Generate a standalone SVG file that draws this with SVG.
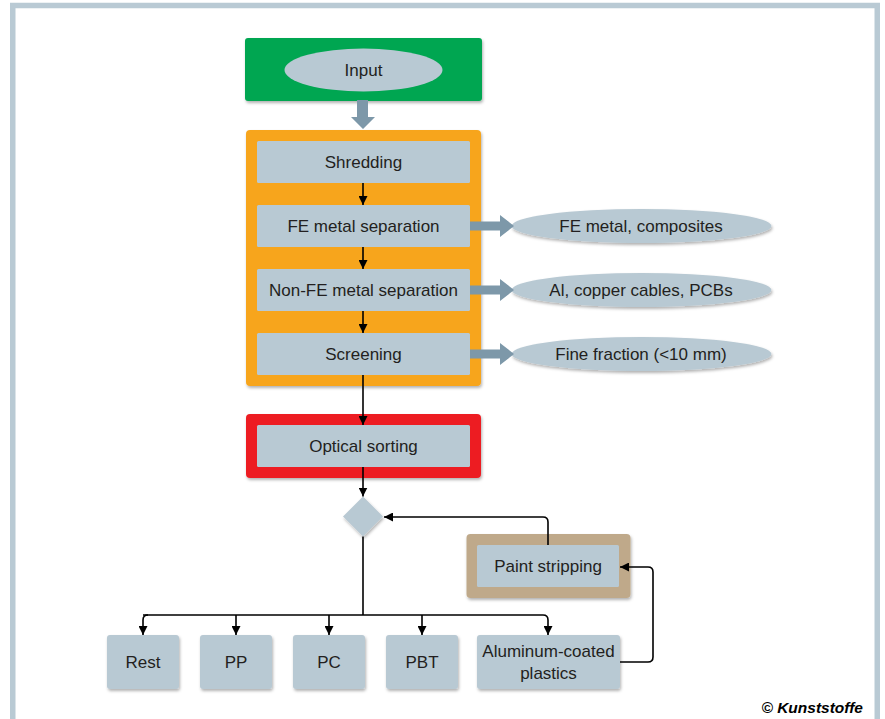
<svg xmlns="http://www.w3.org/2000/svg" width="885" height="719" viewBox="0 0 885 719">
<defs>
<filter id="sh" x="-10%" y="-10%" width="125%" height="130%">
<feDropShadow dx="1" dy="2" stdDeviation="1.5" flood-color="#000" flood-opacity="0.3"/>
</filter>
<marker id="ah" markerUnits="userSpaceOnUse" markerWidth="9" markerHeight="9" refX="9" refY="4.5" orient="auto">
<path d="M0,0 L9,4.5 L0,9 z" fill="#000"/>
</marker>
</defs>
<style>
text{font-family:"Liberation Sans",Arial,sans-serif;font-size:17px;fill:#231f20;text-anchor:middle}
.box{fill:#b8c9d3}
.ell{fill:#b8c9d3;filter:url(#sh)}
.con{fill:none;stroke:#000;stroke-width:1.6}
.arr{marker-end:url(#ah)}
.thick{fill:#7d98a9}
.copy{font-weight:bold;font-style:italic;font-size:15.5px;text-anchor:end;fill:#000}
</style>
<rect x="0" y="0" width="885" height="719" fill="#fff"/>
<rect x="12.75" y="5.5" width="864.5" height="740" fill="#fff" stroke="#b9cad4" stroke-width="5.5"/>

<g id="input">
<rect x="245" y="38" width="237" height="63" rx="3" fill="#00a651" filter="url(#sh)"/>
<ellipse cx="363.5" cy="70" rx="79" ry="21.5" fill="#b8c9d3"/>
<text x="363.5" y="76">Input</text>
</g>

<g id="processing">
<rect x="246" y="130" width="235" height="256" rx="4" fill="#f7a51c" filter="url(#sh)"/>
</g>
<g id="shredding">
<rect class="box" x="257" y="141" width="213" height="42" rx="1.5"/>
<text x="363.5" y="168">Shredding</text>
</g>
<g id="fe-sep">
<rect class="box" x="257" y="205" width="213" height="42" rx="1.5"/>
<text x="363.5" y="232">FE metal separation</text>
</g>
<g id="nonfe-sep">
<rect class="box" x="257" y="269" width="213" height="42" rx="1.5"/>
<text x="363.5" y="296">Non-FE metal separation</text>
</g>
<g id="screening">
<rect class="box" x="257" y="333" width="213" height="42" rx="1.5"/>
<text x="363.5" y="360">Screening</text>
</g>

<g id="out-fe">
<ellipse class="ell" cx="641.5" cy="226" rx="130" ry="17"/>
<text x="641" y="232">FE metal, composites</text>
</g>
<g id="out-al">
<ellipse class="ell" cx="641.5" cy="290" rx="130" ry="17"/>
<text x="641" y="296">Al, copper cables, PCBs</text>
</g>
<g id="out-fine">
<ellipse class="ell" cx="641.5" cy="354" rx="130" ry="17"/>
<text x="641" y="360">Fine fraction (&lt;10 mm)</text>
</g>

<g id="optical">
<rect x="246" y="414" width="235" height="64" rx="4" fill="#ed1c24" filter="url(#sh)"/>
<rect class="box" x="257" y="425" width="213" height="42" rx="1.5"/>
<text x="363.5" y="452">Optical sorting</text>
</g>

<g id="decision">
<polygon points="363,496.5 383,516.5 363,536.5 343,516.5" fill="#b8c9d3" filter="url(#sh)"/>
</g>

<g id="paint">
<rect x="466.5" y="534" width="164" height="64" rx="4" fill="#bfa98a" filter="url(#sh)"/>
<rect class="box" x="477" y="545" width="142" height="42" rx="1.5"/>
<text x="548" y="572">Paint stripping</text>
</g>

<g id="rest">
<rect class="box" x="107" y="635" width="72" height="54" rx="3" filter="url(#sh)"/>
<text x="143" y="668">Rest</text>
</g>
<g id="pp">
<rect class="box" x="200" y="635" width="72" height="54" rx="3" filter="url(#sh)"/>
<text x="236" y="668">PP</text>
</g>
<g id="pc">
<rect class="box" x="293" y="635" width="72" height="54" rx="3" filter="url(#sh)"/>
<text x="329" y="668">PC</text>
</g>
<g id="pbt">
<rect class="box" x="386" y="635" width="72" height="54" rx="3" filter="url(#sh)"/>
<text x="422" y="668">PBT</text>
</g>
<g id="alu">
<rect class="box" x="477" y="635" width="143" height="54" rx="3" filter="url(#sh)"/>
<text x="548.5" y="656.5">Aluminum-coated</text>
<text x="548.5" y="679">plastics</text>
</g>

<g id="connectors">
<polygon class="thick" points="357,100 368,100 368,117 375,117 363,129 351,117 357,117"/>
<polygon class="thick" points="470,221.5 500,221.5 500,215 514,226 500,237 500,230.5 470,230.5"/>
<polygon class="thick" points="470,285.5 500,285.5 500,279 514,290 500,301 500,294.5 470,294.5"/>
<polygon class="thick" points="470,349.5 500,349.5 500,343 514,354 500,365 500,358.5 470,358.5"/>
<path class="con arr" d="M363,183 V205"/>
<path class="con arr" d="M363,247 V269"/>
<path class="con arr" d="M363,311 V333"/>
<path class="con arr" d="M363,375 V425"/>
<path class="con arr" d="M363,467 V496.5"/>
<path class="con" d="M363,536.5 V615"/>
<path class="con arr" d="M548,545 V522 Q548,517 543,517 H384"/>
<path class="con arr" d="M620,662 H648 Q653,662 653,657 V572 Q653,567 648,567 H620"/>
<path class="con arr" d="M143,615 H543 Q548,615 548,620 V635"/>
<path class="con arr" d="M148,615 Q143,615 143,620 V635"/>
<path class="con arr" d="M236,615 V635"/>
<path class="con arr" d="M329,615 V635"/>
<path class="con arr" d="M422,615 V635"/>
</g>

<text class="copy" x="863" y="713">© Kunststoffe</text>
</svg>
